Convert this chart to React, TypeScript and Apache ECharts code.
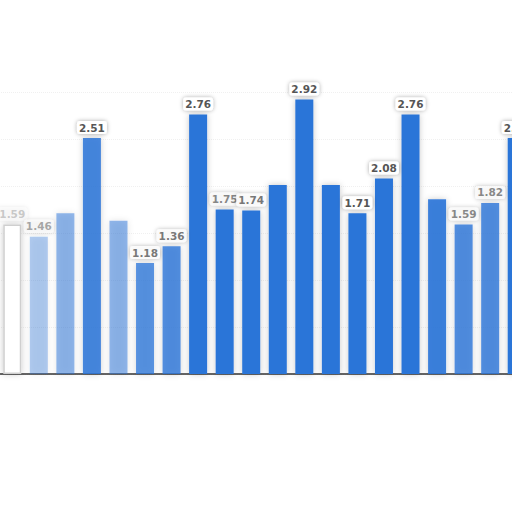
import React, { useEffect, useRef } from "react";
import * as echarts from "echarts";

const categories = [
  "1", "2", "3", "4", "5", "6", "7", "8", "9", "10",
  "11", "12", "13", "14", "15", "16", "17", "18", "19", "20",
];
const values = [
  1.59, 1.46, 1.71, 2.51, 1.63, 1.18, 1.36, 2.76, 1.75, 1.74,
  2.01, 2.92, 2.01, 1.71, 2.08, 2.76, 1.86, 1.59, 1.82, 2.51,
];
const barOpacity = [
  0.08, 0.35, 0.5, 0.85, 0.5, 0.75, 0.8, 1, 1, 1,
  1, 1, 1, 1, 1, 1, 0.9, 0.8, 0.8, 1,
];
const labelShown = [
  true, true, false, true, false, true, true, true, true, true,
  false, true, false, true, true, true, false, true, true, true,
];
const labelOpacity = [
  0.3, 0.5, 0, 1, 0, 0.8, 0.8, 1, 0.7, 0.8,
  0, 1, 0, 1, 1, 1, 0, 0.7, 0.7, 1,
];

export default function App() {
  const ref = useRef<HTMLDivElement>(null);
  useEffect(() => {
    if (!ref.current) return;
    const chart = echarts.init(ref.current, undefined, { renderer: "svg" });
    chart.setOption({
      animation: false,
      backgroundColor: "#ffffff",
      grid: {
        left: -1,
        top: 92,
        width: 531,
        bottom: 138,
        containLabel: false,
        outerBoundsMode: "none",
      },
      xAxis: {
        type: "category",
        data: categories,
        axisLine: { show: true, lineStyle: { color: "#333", width: 1.5 } },
        axisTick: { show: false },
        axisLabel: { show: false },
      },
      yAxis: {
        type: "value",
        min: 0,
        max: 3,
        interval: 0.5,
        axisLabel: { show: false },
        axisLine: { show: false },
        axisTick: { show: false },
        splitLine: { show: true, lineStyle: { color: "#f0f0f0", type: "dotted" } },
      },
      series: [
        {
          type: "bar",
          barWidth: 18,
          data: values.map((v, i) => ({
            value: v,
            itemStyle: {
              color: i === 0 ? "#ffffff" : "#2a74d8",
              opacity: i === 0 ? 1 : barOpacity[i],
              borderColor: i === 0 ? "#cfcfcf" : "transparent",
              borderWidth: i === 0 ? 1.5 : 0,
              shadowColor: "rgba(0,0,0,0.22)",
              shadowBlur: 6,
            },
            label: {
              show: labelShown[i],
              opacity: labelOpacity[i],
            },
          })),
          label: {
            position: "top",
            distance: 4,
            fontFamily: "DejaVu Sans",
            fontSize: 10.5,
            fontWeight: "bold",
            color: "#555",
            backgroundColor: "#ffffff",
            borderRadius: 3,
            padding: [1, 2],
            shadowColor: "rgba(0,0,0,0.35)",
            shadowBlur: 4,
            formatter: (p: any) => p.value.toFixed(2),
          },
        },
      ],
    });
    return () => chart.dispose();
  }, []);
  return (
    <div
      ref={ref}
      style={{ position: "fixed", left: 0, top: 0, width: 512, height: 512, background: "#fff" }}
    />
  );
}
